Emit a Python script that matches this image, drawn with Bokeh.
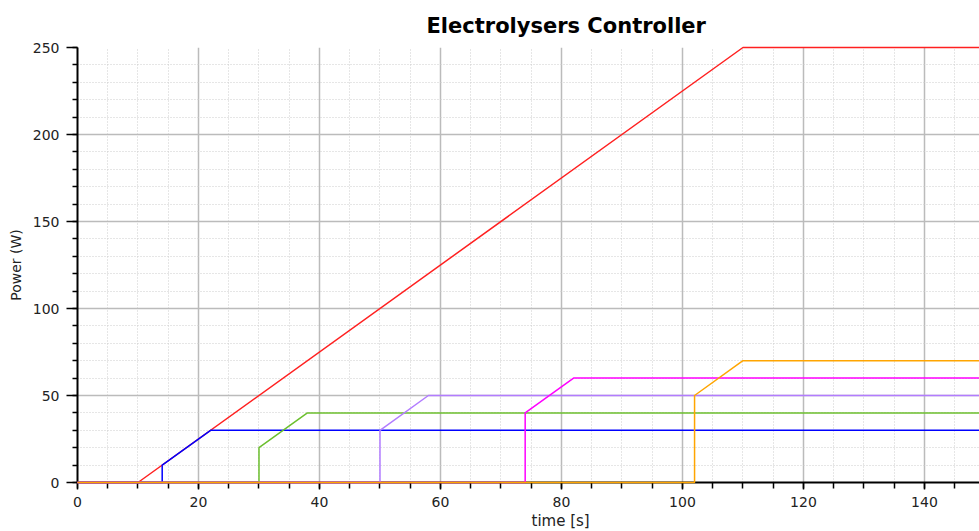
from bokeh.plotting import figure
from bokeh.models import Range1d, SingleIntervalTicker, Title
from bokeh.embed import file_html
from bokeh.resources import INLINE

# Data (breakpoints of each controller output, time in s, power in W)
red_t = [0, 10, 110, 150]
red_v = [0, 0, 250, 250]
blue_t = [0, 14, 14, 22, 150]
blue_v = [0, 0, 10, 30, 30]
green_t = [0, 30, 30, 38, 150]
green_v = [0, 0, 20, 40, 40]
purple_t = [0, 50, 50, 58, 150]
purple_v = [0, 0, 30, 50, 50]
magenta_t = [0, 74, 74, 82, 150]
magenta_v = [0, 0, 40, 60, 60]
orange_t = [0, 102, 102, 110, 150]
orange_v = [0, 0, 50, 70, 70]

title_text = "Electrolysers Controller"
x_label = "time [s]"
y_label = "Power (W)"

FONT = "DejaVu Sans"

p = figure(width=979, height=531, output_backend="svg", toolbar_location=None,
           x_range=Range1d(0, 149.1), y_range=Range1d(0, 250),
           min_border_left=77, min_border_right=0, min_border_top=47,
           min_border_bottom=49)
p.outline_line_color = None
p.background_fill_color = "white"
p.border_fill_color = "white"

series = [
    (red_t, red_v, "#ff2020"),
    (blue_t, blue_v, "#0000ff"),
    (green_t, green_v, "#6cbf2e"),
    (purple_t, purple_v, "#b27cff"),
    (magenta_t, magenta_v, "#ff00ff"),
    (orange_t, orange_v, "#ffa500"),
]
for t, v, c in series:
    p.line(t, v, line_color=c, line_width=1.5, level="overlay")

p.xaxis.ticker = SingleIntervalTicker(interval=20, num_minor_ticks=4)
p.yaxis.ticker = SingleIntervalTicker(interval=50, num_minor_ticks=5)

for ax in (p.xaxis, p.yaxis):
    ax.axis_line_color = "black"
    ax.axis_line_width = 2
    ax.major_tick_line_color = "black"
    ax.minor_tick_line_color = "black"
    ax.major_tick_line_width = 1.5
    ax.minor_tick_line_width = 1.5
    ax.major_tick_in = 0
    ax.minor_tick_in = 0
    ax.major_label_text_font = FONT
    ax.major_label_text_font_size = "14px"
    ax.major_label_text_color = "#222222"

p.xaxis.major_tick_out = 7
p.xaxis.minor_tick_out = 6
p.xaxis.major_label_standoff = 7
p.yaxis.major_tick_out = 11
p.yaxis.minor_tick_out = 5
p.yaxis.major_label_standoff = 7

p.yaxis.axis_label = y_label
p.yaxis.axis_label_text_font = FONT
p.yaxis.axis_label_text_font_size = "14px"
p.yaxis.axis_label_text_font_style = "normal"
p.yaxis.axis_label_text_color = "#222222"
p.yaxis.axis_label_standoff = 6

p.xgrid.grid_line_color = "#bbbbbb"
p.ygrid.grid_line_color = "#bbbbbb"
p.xgrid.grid_line_width = 1.5
p.ygrid.grid_line_width = 1.5
p.xgrid.minor_grid_line_color = "#cccccc"
p.ygrid.minor_grid_line_color = "#cccccc"
p.xgrid.minor_grid_line_dash = "1 2"
p.ygrid.minor_grid_line_dash = "1 2"
p.xgrid.minor_grid_line_width = 1
p.ygrid.minor_grid_line_width = 1
p.xgrid.level = "underlay"
p.ygrid.level = "underlay"

p.title.text = title_text
p.title.text_font = FONT
p.title.text_font_style = "bold"
p.title.text_font_size = "21px"
p.title.text_color = "black"
p.title.align = "left"
p.title.offset = 349
p.title.standoff = 20

p.add_layout(Title(text=x_label, text_font=FONT, text_font_style="normal",
                   text_font_size="15px", text_color="#222222",
                   align="left", offset=454, standoff=0), "below")

open("out.html", "w").write(file_html(p, INLINE))
